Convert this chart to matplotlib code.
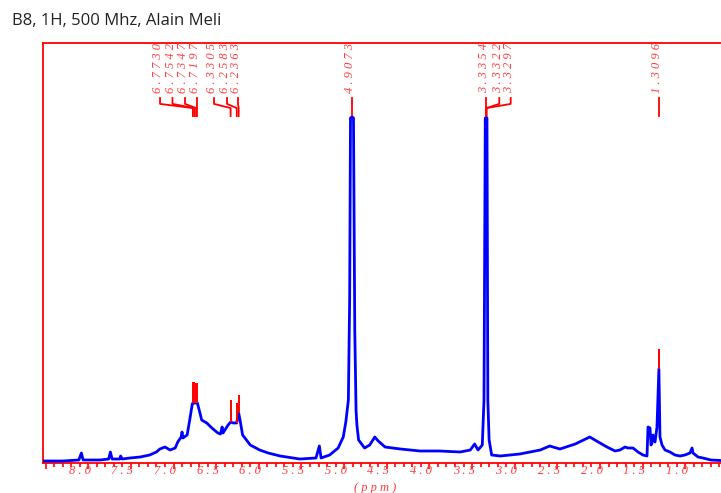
import numpy as np
import matplotlib.pyplot as plt
from matplotlib.ticker import MultipleLocator
import matplotlib.transforms as mtransforms

# spectrum trace (ppm, intensity in arbitrary units)
ppm = [8.53, 8.30, 8.11, 8.08, 8.06, 7.86, 7.76, 7.74, 7.72, 7.63, 7.62, 7.60,
       7.51, 7.39, 7.28, 7.20, 7.16, 7.10, 7.04, 6.98, 6.95, 6.91, 6.90, 6.89,
       6.84, 6.81, 6.78, 6.773, 6.75, 6.72, 6.69, 6.67, 6.61, 6.55, 6.48, 6.45,
       6.43, 6.42, 6.36, 6.33, 6.30, 6.26, 6.236, 6.22, 6.19, 6.10, 5.99, 5.89,
       5.75, 5.52, 5.33, 5.29, 5.27, 5.17, 5.07, 5.01, 4.98, 4.95, 4.935, 4.925,
       4.907, 4.89, 4.875, 4.86, 4.85, 4.83, 4.76, 4.70, 4.64, 4.60, 4.52, 4.34,
       4.11, 3.88, 3.64, 3.52, 3.47, 3.43, 3.38, 3.36, 3.345, 3.335, 3.325, 3.315,
       3.30, 3.27, 3.17, 2.94, 2.70, 2.59, 2.47, 2.29, 2.12, 2.00, 1.918, 1.824,
       1.766, 1.707, 1.672, 1.613, 1.555, 1.496, 1.449, 1.437, 1.414, 1.402, 1.390,
       1.379, 1.355, 1.332, 1.3096, 1.297, 1.273, 1.238, 1.180, 1.121, 1.062, 1.004,
       0.945, 0.921, 0.910, 0.851, 0.793, 0.70, 0.476]
intensity = [2, 2, 3, 10, 3, 3, 4, 11, 4, 4, 7, 4,
             5, 6, 8, 11, 14, 16, 13, 15, 21, 26, 31, 25,
             28, 43, 59, 60, 60, 60, 50, 43, 40, 35, 30, 29,
             36, 30, 38, 41, 40, 40, 50, 43, 28, 18, 13, 10,
             7, 4, 5, 17, 5, 8, 15, 26, 41, 63, 163, 345,
             346, 345, 133, 53, 38, 23, 15, 18, 26, 22, 16, 14,
             12, 12, 11, 13, 19, 13, 18, 63, 345, 345, 345, 63,
             23, 8, 7, 9, 13, 17, 14, 19, 26, 20, 16, 12,
             13, 16, 15, 15, 11, 8, 7, 36, 35, 18, 20,
             28, 21, 36, 94, 26, 18, 13, 11, 8, 7, 8,
             10, 15, 10, 6, 5, 3, 2]

# picked peaks: red tips drawn above the trace
tip_ppm = [6.7730, 6.7542, 6.7347, 6.7197, 6.3305, 6.2583, 6.2363, 1.3096]
tip_base = [60, 60, 60, 60, 41, 40, 50, 94]
tip_top = [81, 81, 80, 80, 63, 60, 68, 114]

# peak labels (value, where the label sits on the ppm axis)
peak_vals = [6.7730, 6.7542, 6.7347, 6.7197, 6.3305, 6.2583, 6.2363,
             4.9073, 3.3354, 3.3322, 3.3297, 1.3096]
label_pos = [7.158, 7.012, 6.865, 6.724, 6.525, 6.373, 6.244,
             4.9073, 3.336, 3.181, 3.047, 1.3096]

major_ticks = [8.0, 7.5, 7.0, 6.5, 6.0, 5.5, 5.0, 4.5, 4.0, 3.5, 3.0, 2.5, 2.0, 1.5, 1.0]

RED = '#ff0000'
LABEL_RED = '#ff3b3b'
BLUE = '#0000ff'

fig = plt.figure(figsize=(7.21, 4.93), dpi=100)
ax = fig.add_axes([43 / 721, 30 / 493, (730 - 43) / 721, 420 / 493])

ax.plot(ppm, intensity, color=BLUE, linewidth=2.0, zorder=3)
ax.vlines(tip_ppm, tip_base, tip_top, color=RED, linewidth=1.4, zorder=4)

ax.set_xlim(8.53, 0.476)
ax.set_ylim(0, 420)

for s in ax.spines.values():
    s.set_color(RED)
    s.set_linewidth(1.3)
ax.spines['right'].set_visible(False)

ax.yaxis.set_visible(False)
ax.xaxis.set_major_locator(MultipleLocator(0.5))
ax.xaxis.set_minor_locator(MultipleLocator(0.1))
ax.tick_params(axis='x', which='both', direction='out', color=RED, labelbottom=False)
ax.tick_params(axis='x', which='major', length=4.5, width=1.2)
ax.tick_params(axis='x', which='minor', length=3, width=1.2)

# tick labels, drawn a bit left of their ticks like the original
trans = mtransforms.blended_transform_factory(ax.transData, ax.transAxes)
for t in major_ticks:
    s = ' . '.join(f'{t:.1f}'.split('.'))
    ax.text(t + 0.1, -0.019, s, transform=trans, ha='center', va='center',
            color=LABEL_RED, fontsize=9, family='Liberation Serif', style='italic')

ax.text(0.483, -0.06, '( p p m )', transform=ax.transAxes, ha='center', va='center',
        color=LABEL_RED, fontsize=9, family='Liberation Serif', style='italic')

# peak labels with connector lines
y_text, y_a, y_b, y_c = 0.881, 0.869, 0.855, 0.845
y_d = 0.826
for v, p in zip(peak_vals, label_pos):
    s = ' '.join(f'{v:.4f}')
    ax.text(p + 0.02, y_text, s, transform=trans, rotation=90, ha='center', va='bottom',
            color=LABEL_RED, fontsize=9, family='Liberation Serif', style='italic',
            clip_on=False)
    if abs(v - p) < 0.005:
        ax.plot([p, p], [y_a, y_d], transform=trans, color=RED, linewidth=1.3, clip_on=False)
    else:
        ax.plot([p, p, v, v], [y_a, y_b, y_c, y_d], transform=trans, color=RED,
                linewidth=1.3, clip_on=False)

fig.text(12 / 721, 1 - 21 / 493, 'B8, 1H, 500 Mhz, Alain Meli', ha='left', va='center',
         fontsize=12, family='Open Sans', color='#222222')

fig.savefig('out.png', dpi=100)
